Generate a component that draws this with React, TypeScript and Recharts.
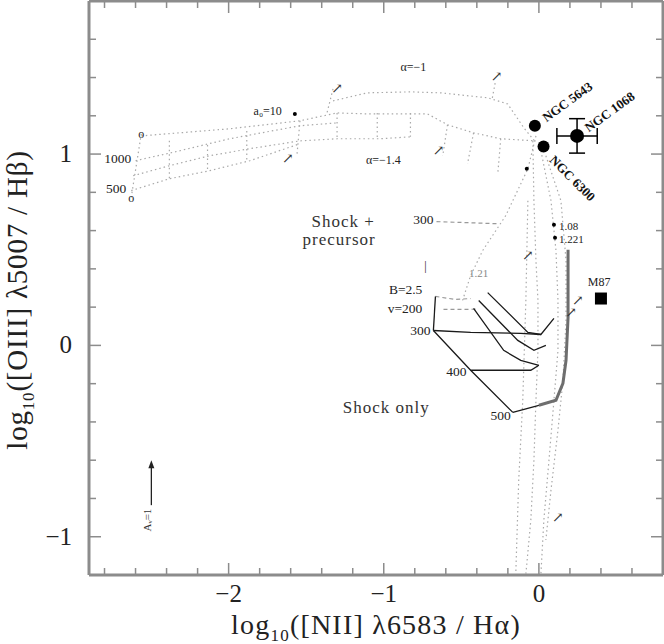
import React from 'react';
import { ScatterChart, Scatter, XAxis, YAxis, ErrorBar } from 'recharts';

type P = [number, number];

// axis ticks (every 0.2, labels on the integers)
const X_TICKS = [-2.8, -2.6, -2.4, -2.2, -2, -1.8, -1.6, -1.4, -1.2, -1, -0.8, -0.6, -0.4, -0.2, 0, 0.2, 0.4, 0.6];
const Y_TICKS = [-1, -0.8, -0.6, -0.4, -0.2, 0, 0.2, 0.4, 0.6, 0.8, 1, 1.2, 1.4, 1.6];

// shock + precursor models (dotted grey)
const PRE_TOP: P[] = [[-1.327, 1.278], [-1.107, 1.32], [-0.828, 1.325], [-0.634, 1.32], [-0.33, 1.294], [-0.201, 1.262], [-0.097, 1.137], [-0.019, 1.06]];
const PRE_1: P[] = [[-2.563, 1.095], [-1.994, 1.132], [-1.54, 1.174], [-1.301, 1.215], [-1.107, 1.21], [-0.718, 1.21], [-0.589, 1.153], [-0.421, 1.111], [-0.246, 1.08], [-0.019, 1.069]];
const PRE_2: P[] = [[-2.6, 0.965], [-2.317, 1.017], [-1.994, 1.08], [-1.54, 1.148], [-1.301, 1.163]];
const PRE_3: P[] = [[-2.615, 0.887], [-2.382, 0.939], [-2.123, 0.991], [-1.864, 1.028], [-1.54, 1.069], [-1.301, 1.08], [-1.023, 1.08], [-0.828, 1.09]];
const PRE_4: P[] = [[-2.628, 0.809], [-2.382, 0.871], [-2.123, 0.913], [-1.864, 0.965], [-1.54, 1.054]];
const PRE_RUNGS: P[][] = [
  [[-2.563, 1.106], [-2.628, 0.772]],
  [[-2.382, 1.069], [-2.382, 0.871]],
  [[-2.136, 1.048], [-2.136, 0.913]],
  [[-1.883, 1.12], [-1.883, 0.96]],
  [[-1.301, 1.215], [-1.301, 1.075]],
  [[-1.042, 1.215], [-1.042, 1.078]],
  [[-0.828, 1.215], [-0.828, 1.09]],
  [[-1.327, 1.34], [-1.366, 1.215]],
  [[-1.54, 1.174], [-1.56, 0.99]],
  [[-0.589, 1.153], [-0.62, 0.99]],
  [[-0.421, 1.111], [-0.46, 0.949]],
  [[-0.246, 1.08], [-0.265, 0.897]],
  [[-0.3, 1.294], [-0.28, 1.38]],
];
const DESC_1: P[] = [[-0.019, 1.095], [-0.071, 0.923], [-0.214, 0.678], [-0.362, 0.496], [-0.44, 0.365], [-0.492, 0.235]];
const DESC_2: P[] = [[-0.039, 1.069], [-0.032, 0.756], [-0.019, 0.443], [-0.006, 0.235], [-0.006, -0.026], [-0.019, -0.287], [-0.032, -0.6], [-0.052, -0.913], [-0.084, -1.195]];
const DESC_3: P[] = [[0.013, 1.017], [0.078, 0.756], [0.11, 0.496], [0.123, 0.235], [0.123, -0.026], [0.097, -0.287], [0.065, -0.6], [0.032, -0.913], [0.013, -1.195]];
const DESC_4: P[] = [[0.045, 0.991], [0.142, 0.756], [0.175, 0.443], [0.175, 0.13], [0.155, -0.183], [0.123, -0.443], [0.078, -0.756], [0.045, -1.017]];
const DESC_5: P[] = [[-0.071, 0.756], [-0.084, 0.235], [-0.104, -0.287], [-0.13, -0.704], [-0.149, -1.195]];
const DASH_300: P[] = [[-0.66, 0.647], [-0.265, 0.636]];
const DASH_B: P[] = [[-0.667, 0.256], [-0.537, 0.24], [-0.44, 0.245]];
const DASH_V200: P[] = [[-0.615, 0.188], [-0.46, 0.188], [-0.4, 0.19]];

// shock-only grid (solid black)
const SH_LINES: P[][] = [
  [[-0.667, 0.256], [-0.68, 0.078]],
  [[-0.68, 0.078], [-0.44, 0.068], [-0.117, 0.063], [0.013, 0.057], [0.097, 0.141]],
  [[-0.68, 0.078], [-0.44, -0.13], [-0.168, -0.35]],
  [[-0.44, -0.13], [-0.052, -0.13], [0, -0.104]],
  [[-0.168, -0.35], [0, -0.313]],
  [[-0.33, 0.276], [-0.071, 0.068], [0.013, 0.057]],
  [[-0.388, 0.235], [-0.136, 0.026], [-0.032, -0.026], [0.045, 0]],
  [[-0.421, 0.193], [-0.227, -0.026], [-0.117, -0.078], [0, -0.104]],
];
const SH_EDGE: P[] = [[0.188, 0.5], [0.188, 0.146], [0.175, -0.078], [0.155, -0.198], [0.11, -0.287], [0, -0.313]];

// observed galaxies
const NGC_5643 = [{ x: -0.026, y: 1.148 }];
const NGC_6300 = [{ x: 0.03, y: 1.04 }];
const NGC_1068 = [{ x: 0.246, y: 1.095, ex: 0.13, ey: 0.09 }];
const M87 = [{ x: 0.4, y: 0.245 }];
const SMALL_DOTS: P[] = [[-1.573, 1.21], [0.097, 0.631], [0.104, 0.563], [-0.078, 0.923]];
const REDDENING: P[] = [[-2.498, -0.835], [-2.498, -0.626]];
const FRAME_ANCHOR = [{ x: 0, y: 0 }];

// annotations
const NOTES_MID = [
  { x: -0.809, y: 1.455, t: 'α=−1' },
  { x: -1.003, y: 0.97, t: 'α=−1.4' },
  { x: -1.748, y: 1.226, t: 'a₀=10' },
  { x: 0.388, y: 0.329, t: 'M87' },
  { x: -2.563, y: 1.106, t: 'o' },
  { x: -2.628, y: 0.772, t: 'o' },
  { x: -0.731, y: 0.417, t: '|' },
];
const NOTES_END = [
  { x: -2.628, y: 0.976, t: '1000' },
  { x: -2.66, y: 0.819, t: '500' },
  { x: -0.68, y: 0.657, t: '300' },
  { x: -0.751, y: 0.292, t: 'B=2.5' },
  { x: -0.751, y: 0.193, t: 'v=200' },
  { x: -0.699, y: 0.078, t: '300' },
  { x: -0.466, y: -0.136, t: '400' },
  { x: -0.181, y: -0.365, t: '500' },
];
const NOTES_SMALL = [
  { x: 0.129, y: 0.626, t: '1.08' },
  { x: 0.129, y: 0.558, t: '1.221' },
];
const NOTES_GREY = [{ x: -0.388, y: 0.376, t: '1.21' }];
const NOTES_BIG = [
  { x: -1.262, y: 0.645, t: 'Shock +' },
  { x: -1.288, y: 0.553, t: 'precursor' },
  { x: -0.984, y: -0.323, t: 'Shock only' },
];
const ARROW_MARKS = [
  { x: -1.618, y: 0.976, t: '↗' },
  { x: -1.301, y: 1.341, t: '↗' },
  { x: -0.272, y: 1.403, t: '↗' },
  { x: -0.647, y: 1.017, t: '↗' },
  { x: -0.071, y: 0.469, t: '↗' },
  { x: 0.123, y: -0.897, t: '↗' },
  { x: 0.252, y: 0.235, t: '↗' },
  { x: 0.207, y: 0.172, t: '↗' },
];
const NAMES_UP = [
  { x: 0.032, y: 1.184, t: 'NGC 5643' },
  { x: 0.304, y: 1.132, t: 'NGC 1068' },
];
const NAMES_DOWN = [{ x: 0.084, y: 0.981, t: 'NGC 6300' }];
const NAMES_SIDE = [{ x: -2.524, y: -0.913, t: 'Aᵥ=1' }];

const SERIF = '"Liberation Serif", "DejaVu Serif", serif';
const GREY = '#a9a9a9';
const AXIS = '#8c8c8c';

const toXY = (a: P[]) => a.map(([x, y]) => ({ x, y }));
const Nothing = () => <g />;

const dotted = { stroke: GREY, strokeWidth: 1.2, strokeDasharray: '1.5 3' };
const dashed = { stroke: '#999', strokeWidth: 1.2, strokeDasharray: '4 3' };
const solid = { stroke: '#1a1a1a', strokeWidth: 1.3 };

const isMajor = (v: number) => Math.abs(v - Math.round(v)) < 1e-6;
const fmt = (v: number) => {
  const r = Math.round(v);
  return r < 0 ? '\u2212' + Math.abs(r) : String(r);
};

const BottomTick = (p: any) => {
  const major = isMajor(p.payload.value);
  return (
    <g>
      <line x1={p.x} x2={p.x} y1={p.y} y2={p.y - (major ? 12 : 7)} stroke={AXIS} strokeWidth={1.5} />
      {major && (
        <text x={p.x} y={p.y + 27} textAnchor="middle" fontSize={25} fontFamily={SERIF} fill="#222">
          {fmt(p.payload.value)}
        </text>
      )}
    </g>
  );
};
const TopTick = (p: any) => {
  const major = isMajor(p.payload.value);
  return <line x1={p.x} x2={p.x} y1={p.y} y2={p.y + (major ? 12 : 7)} stroke={AXIS} strokeWidth={1.5} />;
};
const LeftTick = (p: any) => {
  const major = isMajor(p.payload.value);
  return (
    <g>
      <line x1={p.x} x2={p.x + (major ? 12 : 7)} y1={p.y} y2={p.y} stroke={AXIS} strokeWidth={1.5} />
      {major && (
        <text x={p.x - 17} y={p.y + 8} textAnchor="end" fontSize={25} fontFamily={SERIF} fill="#222">
          {fmt(p.payload.value)}
        </text>
      )}
    </g>
  );
};
const RightTick = (p: any) => {
  const major = isMajor(p.payload.value);
  return <line x1={p.x} x2={p.x - (major ? 12 : 7)} y1={p.y} y2={p.y} stroke={AXIS} strokeWidth={1.5} />;
};

const makeText = (size: number, anchor: string, rot: number, color: string, weight = 'normal', spacing = 0) => (p: any) => (
  <text
    x={p.cx}
    y={p.cy}
    fontSize={size}
    fontWeight={weight}
    letterSpacing={spacing}
    textAnchor={anchor}
    dominantBaseline="central"
    fill={color}
    fontFamily={SERIF}
    transform={rot ? `rotate(${rot} ${p.cx} ${p.cy})` : undefined}
  >
    {p.payload.t}
  </text>
);

const Dot = (r: number) => (p: any) => <circle cx={p.cx} cy={p.cy} r={r} fill="#000" />;
const Square = (p: any) => <rect x={p.cx - 6} y={p.cy - 6} width={12} height={12} fill="#000" />;
const ArrowHead = (p: any) => (
  <path d={`M${p.cx},${p.cy - 5} L${p.cx - 3},${p.cy + 3} L${p.cx + 3},${p.cy + 3} Z`} fill="#222" />
);

const XTitle = (p: any) => {
  const vb = p.viewBox;
  return (
    <text x={vb.x + vb.width / 2} y={vb.y + 59} textAnchor="middle" fontSize={28} letterSpacing={1.2} fontFamily={SERIF} fill="#222">
      log<tspan dy={7} fontSize={17}>10</tspan>
      <tspan dy={-7}>([NII] λ6583 / Hα)</tspan>
    </text>
  );
};
const YTitle = () => (
  <text x={27} y={300} transform="rotate(-90 27 300)" textAnchor="middle" fontSize={29} letterSpacing={0.8} fontFamily={SERIF} fill="#222">
    log<tspan dy={7} fontSize={17}>10</tspan>
    <tspan dy={-7}>([OIII] λ5007 / Hβ)</tspan>
  </text>
);

const line = (key: string, pts: P[], style: object) => (
  <Scatter
    key={key}
    data={toXY(pts)}
    line={style}
    lineType="joint"
    shape={Nothing}
    xAxisId="b"
    yAxisId="l"
    isAnimationActive={false}
  />
);

const notes = (key: string, data: any[], shape: any) => (
  <Scatter key={key} data={data} shape={shape} xAxisId="b" yAxisId="l" isAnimationActive={false} />
);

export default function App() {
  return (
    <div style={{ position: 'absolute', left: 0, top: 0, width: 664, height: 644, background: '#fff' }}>
      <ScatterChart width={664} height={644} margin={{ top: 0, right: 0, bottom: 0, left: 0 }}>
        <XAxis
          xAxisId="b"
          dataKey="x"
          type="number"
          domain={[-2.9, 0.8]}
          allowDataOverflow
          ticks={X_TICKS}
          interval={0}
          height={69}
          tickLine={false}
          tickSize={0}
          tickMargin={0}
          tick={BottomTick}
          axisLine={{ stroke: AXIS, strokeWidth: 3 }}
          label={XTitle}
        />
        <XAxis
          xAxisId="t"
          orientation="top"
          dataKey="x"
          type="number"
          domain={[-2.9, 0.8]}
          allowDataOverflow
          ticks={X_TICKS}
          interval={0}
          height={1}
          tickLine={false}
          tickSize={0}
          tickMargin={0}
          tick={TopTick}
          axisLine={{ stroke: AXIS, strokeWidth: 3 }}
        />
        <YAxis
          yAxisId="l"
          dataKey="y"
          type="number"
          domain={[-1.2, 1.8]}
          allowDataOverflow
          ticks={Y_TICKS}
          interval={0}
          width={89}
          tickLine={false}
          tickSize={0}
          tickMargin={0}
          tick={LeftTick}
          axisLine={{ stroke: AXIS, strokeWidth: 3 }}
          label={YTitle}
        />
        <YAxis
          yAxisId="r"
          orientation="right"
          dataKey="y"
          type="number"
          domain={[-1.2, 1.8]}
          allowDataOverflow
          ticks={Y_TICKS}
          interval={0}
          width={1}
          tickLine={false}
          tickSize={0}
          tickMargin={0}
          tick={RightTick}
          axisLine={{ stroke: AXIS, strokeWidth: 3 }}
        />

        <Scatter data={FRAME_ANCHOR} shape={Nothing} xAxisId="t" yAxisId="r" isAnimationActive={false} />

        {line('pt', PRE_TOP, dotted)}
        {line('p1', PRE_1, dotted)}
        {line('p2', PRE_2, dotted)}
        {line('p3', PRE_3, dotted)}
        {line('p4', PRE_4, dotted)}
        {PRE_RUNGS.map((r, i) => line('r' + i, r, dotted))}
        {line('d1', DESC_1, dotted)}
        {line('d2', DESC_2, dotted)}
        {line('d3', DESC_3, dotted)}
        {line('d4', DESC_4, dotted)}
        {line('d5', DESC_5, dotted)}
        {line('h300', DASH_300, dashed)}
        {line('hb', DASH_B, dashed)}
        {line('hv', DASH_V200, dashed)}

        {SH_LINES.map((s, i) => line('s' + i, s, solid))}
        {line('edge', SH_EDGE, { stroke: '#6e6e6e', strokeWidth: 3 })}

        {line('red', REDDENING, { stroke: '#222', strokeWidth: 1.3 })}
        {notes('redhead', toXY(REDDENING.slice(1)), ArrowHead)}

        {notes('small', toXY(SMALL_DOTS), Dot(2))}
        {notes('n5643', NGC_5643, Dot(6))}
        {notes('n6300', NGC_6300, Dot(6))}
        <Scatter data={NGC_1068} shape={Dot(7)} xAxisId="b" yAxisId="l" isAnimationActive={false}>
          <ErrorBar dataKey="ex" direction="x" width={8} stroke="#000" strokeWidth={1.5} />
          <ErrorBar dataKey="ey" direction="y" width={8} stroke="#000" strokeWidth={1.5} />
        </Scatter>
        {notes('m87', M87, Square)}

        {notes('tmid', NOTES_MID, makeText(12, 'middle', 0, '#222'))}
        {notes('tend', NOTES_END, makeText(13.5, 'end', 0, '#222'))}
        {notes('tsmall', NOTES_SMALL, makeText(11, 'start', 0, '#222'))}
        {notes('tgrey', NOTES_GREY, makeText(11, 'middle', 0, '#888'))}
        {notes('tbig', NOTES_BIG, makeText(17, 'middle', 0, '#333', 'normal', 1))}
        {notes('tarrow', ARROW_MARKS, makeText(14, 'middle', 0, '#333'))}
        {notes('tup', NAMES_UP, makeText(13, 'start', -36, '#111', 'bold'))}
        {notes('tdown', NAMES_DOWN, makeText(13, 'start', 45, '#111', 'bold'))}
        {notes('tside', NAMES_SIDE, makeText(11, 'middle', -90, '#333'))}
      </ScatterChart>
    </div>
  );
}
